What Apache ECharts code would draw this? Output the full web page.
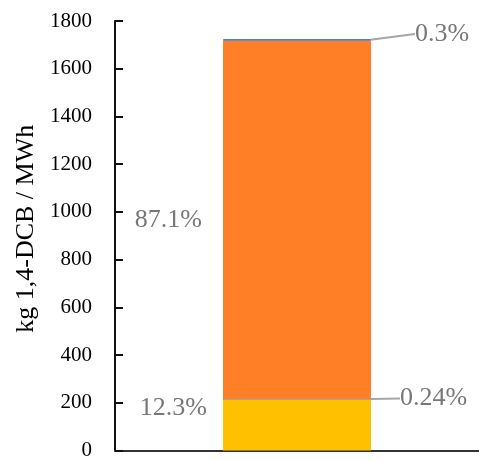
<!DOCTYPE html>
<html style="height: 100%">
<head>
    <meta charset="UTF-8">
    <title>kg 1,4-DCB / MWh</title>
    <script src="https://cdn.jsdelivr.net/npm/echarts/dist/echarts.min.js"></script>
    <style>
        #main {
            height: 100%;
        }
    </style>
</head>
<body style="height: 100%; margin: 0; background: #fff">
    <div id="main"></div>
    <script type="text/javascript">
        // stack order: bottom to top
        var categories = ['total'];
        var segNames = ['s1', 's2', 's3', 's4'];
        var segValues = [212, 4.1, 1502, 5.2];
        var segShares = ['12.3%', '0.24%', '87.1%', '0.3%'];
        var segColors = ['#FFC000', '#A5A5A5', '#FE7F26', '#2E75C6'];

        var chartDom = document.getElementById('main');
        var myChart = echarts.init(chartDom);
        var option;

        var serif = 'Liberation Serif';
        var labelGray = '#777777';

        // per-segment label placement
        var labelSetup = [
            { position: 'left', distance: 16, dy: -17, line: false },
            { position: 'right', distance: 0, dx: 29, dy: -1, line: true },
            { position: 'left', distance: 21, dy: 0, line: false },
            { position: 'right', distance: 0, dx: 44, dy: -6, line: true }
        ];

        var series = segNames.map(function (name, i) {
            var s = labelSetup[i];
            return {
                name: name,
                type: 'bar',
                stack: 'total',
                barWidth: 148,
                data: [segValues[i]],
                itemStyle: {
                    color: segColors[i],
                    borderColor: segColors[i],
                    borderWidth: i === 3 ? 1 : 0
                },
                label: {
                    show: true,
                    position: s.position,
                    distance: s.distance,
                    formatter: segShares[i],
                    color: labelGray,
                    fontFamily: serif,
                    fontSize: 26
                },
                labelLayout: { dx: s.dx || 0, dy: s.dy || 0 },
                labelLine: {
                    show: s.line,
                    lineStyle: { color: '#A6A6A6', width: 2 }
                }
            };
        });

        option = {
            animation: false,
            grid: { left: 115, right: 0, top: 21, bottom: 8 },
            xAxis: {
                type: 'category',
                data: categories,
                axisLine: { lineStyle: { color: '#333', width: 2 } },
                axisTick: { show: false },
                axisLabel: { show: false }
            },
            yAxis: {
                type: 'value',
                min: 0,
                max: 1800,
                interval: 200,
                name: 'kg 1,4-DCB / MWh',
                nameLocation: 'middle',
                nameGap: 75,
                nameTextStyle: { fontFamily: serif, fontSize: 26, color: '#000', padding: [0, 0, 0, 14] },
                axisLine: { show: true, lineStyle: { color: '#111', width: 2 } },
                axisTick: { show: true, inside: true, length: 8, lineStyle: { color: '#111', width: 2 } },
                axisLabel: {
                    fontFamily: serif,
                    fontSize: 21,
                    color: '#000',
                    margin: 23,
                    formatter: function (v) { return String(v); }
                },
                splitLine: { show: false }
            },
            series: series
        };

        myChart.setOption(option);
    </script>
</body>
</html>
